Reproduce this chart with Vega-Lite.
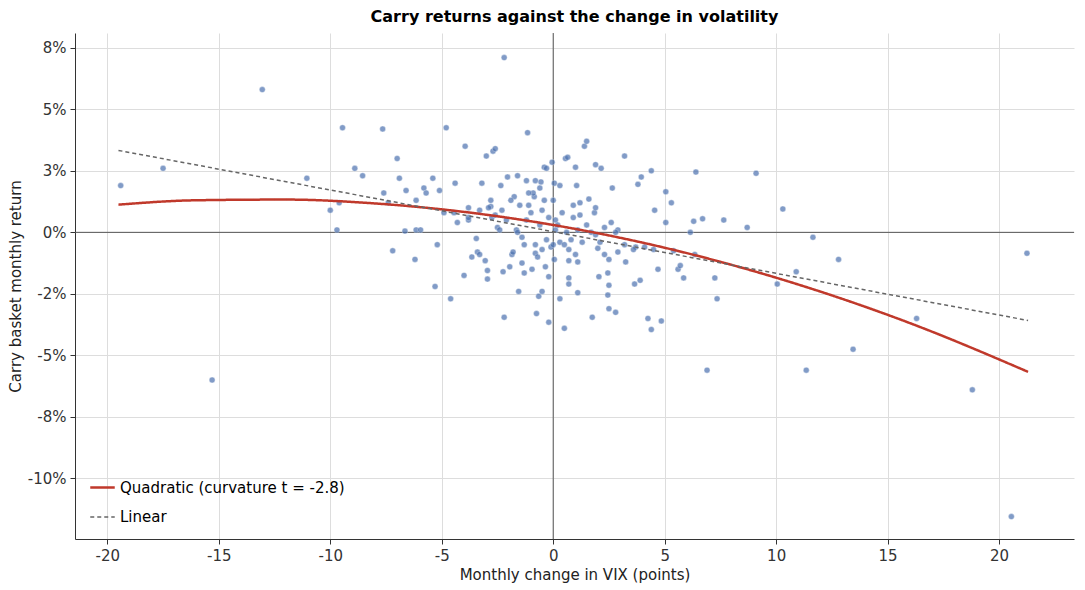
{
  "$schema": "https://vega.github.io/schema/vega-lite/v6.json",
  "autosize": {"type": "fit", "contains": "padding"},
  "width": 1085,
  "height": 590,
  "padding": {"left": 8, "right": 10, "top": 8, "bottom": 8},
  "title": {"text": "Carry returns against the change in volatility", "fontSize": 16, "fontWeight": "bold", "font": "DejaVu Sans", "offset": 8},
  "config": {
    "font": "DejaVu Sans",
    "view": {"stroke": null},
    "axis": {"labelFontSize": 15, "titleFontSize": 15, "titleFontWeight": "normal", "gridColor": "#dddddd", "domainColor": "#333", "tickColor": "#333", "labelColor": "#333", "titleColor": "#222", "labelPadding": 4}
  },
  "datasets": {
    "pts": [
      {"x":-19.4,"y":1.9},{"x":-17.5,"y":2.6},{"x":-13.05,"y":5.8},{"x":-15.3,"y":-6.0},{"x":-9.45,"y":4.25},{"x":-11.05,"y":2.2},{"x":-10.0,"y":0.9},{"x":-9.7,"y":0.1},{"x":-9.6,"y":1.2},{"x":-8.9,"y":2.6},{"x":-8.55,"y":2.3},{"x":-7.65,"y":4.2},{"x":-7.6,"y":1.6},{"x":-7.4,"y":1.2},{"x":-7.0,"y":3.0},{"x":-6.9,"y":2.2},{"x":-7.2,"y":-0.75},{"x":-6.65,"y":0.05},{"x":-6.6,"y":1.7},{"x":-6.2,"y":-1.1},{"x":-6.15,"y":1.3},{"x":-6.15,"y":0.1},{"x":-5.95,"y":0.1},{"x":-5.8,"y":1.8},{"x":-5.7,"y":1.6},{"x":-5.4,"y":2.2},{"x":-5.3,"y":-2.2},{"x":-5.2,"y":-0.5},{"x":-5.1,"y":1.7},{"x":-4.8,"y":4.25},{"x":-4.9,"y":0.8},{"x":-4.6,"y":-2.7},{"x":-4.4,"y":2.0},{"x":-4.45,"y":0.8},{"x":-3.95,"y":3.5},{"x":-4.0,"y":-1.75},{"x":-3.8,"y":1.0},{"x":-3.8,"y":0.5},{"x":-3.65,"y":-1.0},{"x":-3.45,"y":-0.25},{"x":-3.4,"y":-0.8},{"x":-3.3,"y":-0.9},{"x":-3.2,"y":2.0},{"x":-3.05,"y":-1.15},{"x":-2.95,"y":-1.55},{"x":-2.95,"y":-1.9},{"x":-3.0,"y":3.1},{"x":-2.8,"y":1.05},{"x":-2.75,"y":0.6},{"x":-2.7,"y":3.3},{"x":-2.6,"y":3.4},{"x":-2.5,"y":0.2},{"x":-2.35,"y":1.9},{"x":-2.25,"y":-1.6},{"x":-2.2,"y":7.1},{"x":-2.2,"y":-3.45},{"x":-2.05,"y":2.25},{"x":-1.95,"y":-1.4},{"x":-1.85,"y":-0.9},{"x":-1.75,"y":1.45},{"x":-1.65,"y":0.1},{"x":-1.55,"y":-2.4},{"x":-1.4,"y":-1.25},{"x":-1.3,"y":-1.65},{"x":-1.2,"y":2.1},{"x":-1.15,"y":4.05},{"x":-1.1,"y":1.1},{"x":-0.95,"y":-1.5},{"x":-0.85,"y":1.45},{"x":-0.8,"y":-0.85},{"x":-0.75,"y":-3.3},{"x":-0.65,"y":-2.6},{"x":-0.5,"y":-2.4},{"x":-0.55,"y":2.05},{"x":-0.4,"y":2.65},{"x":-0.35,"y":-1.4},{"x":-0.2,"y":-1.8},{"x":-0.2,"y":-3.65},{"x":-0.05,"y":2.85},{"x":0.05,"y":2.0},{"x":0.05,"y":-1.1},{"x":0.1,"y":0.1},{"x":0.3,"y":-2.7},{"x":0.5,"y":-3.9},{"x":0.55,"y":3.0},{"x":0.65,"y":3.05},{"x":0.7,"y":-1.85},{"x":0.7,"y":-2.1},{"x":0.7,"y":-1.15},{"x":1.0,"y":2.65},{"x":1.05,"y":1.9},{"x":1.1,"y":-1.2},{"x":1.1,"y":-2.45},{"x":1.2,"y":1.2},{"x":1.4,"y":3.5},{"x":1.5,"y":3.7},{"x":1.6,"y":1.35},{"x":1.75,"y":-3.45},{"x":1.85,"y":0.8},{"x":1.9,"y":2.75},{"x":2.0,"y":-0.65},{"x":2.05,"y":-1.8},{"x":2.15,"y":2.6},{"x":2.3,"y":-0.9},{"x":2.45,"y":-1.65},{"x":2.45,"y":-2.55},{"x":2.5,"y":-2.15},{"x":2.5,"y":-3.1},{"x":2.65,"y":1.8},{"x":2.8,"y":-3.25},{"x":2.9,"y":-0.8},{"x":3.2,"y":3.1},{"x":3.25,"y":-1.2},{"x":3.65,"y":-2.1},{"x":3.8,"y":1.95},{"x":3.9,"y":-1.95},{"x":3.95,"y":2.25},{"x":4.25,"y":-3.5},{"x":4.4,"y":-3.95},{"x":4.4,"y":2.5},{"x":4.55,"y":0.9},{"x":4.7,"y":-1.5},{"x":4.85,"y":-3.6},{"x":5.05,"y":1.65},{"x":5.05,"y":0.4},{"x":5.3,"y":1.2},{"x":5.4,"y":-0.75},{"x":5.6,"y":-1.5},{"x":5.7,"y":-1.35},{"x":5.85,"y":-1.85},{"x":6.15,"y":0.0},{"x":6.3,"y":0.45},{"x":6.35,"y":-0.9},{"x":6.4,"y":2.45},{"x":6.7,"y":0.55},{"x":6.9,"y":-5.6},{"x":7.25,"y":-1.85},{"x":7.35,"y":-2.7},{"x":7.65,"y":0.5},{"x":8.7,"y":0.2},{"x":9.1,"y":2.4},{"x":10.05,"y":-2.1},{"x":10.3,"y":0.95},{"x":10.9,"y":-1.6},{"x":11.35,"y":-5.6},{"x":11.65,"y":-0.2},{"x":12.8,"y":-1.1},{"x":13.45,"y":-4.75},{"x":16.3,"y":-3.5},{"x":18.8,"y":-6.4},{"x":20.55,"y":-11.55},{"x":21.25,"y":-0.85},
      {"x":-2.9,"y":1.0},{"x":-2.6,"y":0.7},{"x":-2.3,"y":0.9},{"x":-2.1,"y":0.5},{"x":-1.9,"y":1.3},{"x":-1.6,"y":0.0},{"x":-1.4,"y":-0.2},{"x":-1.2,"y":0.5},{"x":-1.0,"y":0.8},{"x":-0.9,"y":1.6},{"x":-0.8,"y":-0.5},{"x":-0.6,"y":0.3},{"x":-0.5,"y":0.9},{"x":-0.4,"y":1.3},{"x":-0.3,"y":-0.3},{"x":-0.2,"y":0.6},{"x":-0.1,"y":-0.6},{"x":0.1,"y":0.5},{"x":0.2,"y":0.3},{"x":0.3,"y":-0.4},{"x":0.4,"y":0.8},{"x":0.6,"y":0.0},{"x":0.8,"y":-0.3},{"x":0.9,"y":0.6},{"x":1.1,"y":0.1},{"x":1.3,"y":-0.4},{"x":1.5,"y":0.3},{"x":1.7,"y":0.0},{"x":1.9,"y":-0.1},{"x":2.1,"y":-0.4},{"x":2.3,"y":0.2},{"x":2.6,"y":0.4},{"x":2.9,"y":0.1},{"x":3.2,"y":-0.5},{"x":3.7,"y":-0.6},{"x":4.1,"y":-0.6},{"x":4.5,"y":-0.7},{"x":-1.3,"y":-0.5},{"x":-0.7,"y":-1.0},{"x":-0.5,"y":-0.7},{"x":0.0,"y":-0.5},{"x":0.5,"y":-0.5},{"x":1.0,"y":-0.9},{"x":-1.8,"y":-0.8},{"x":-2.4,"y":0.1},{"x":-2.8,"y":1.3},{"x":-1.5,"y":1.1},{"x":-1.1,"y":1.6},{"x":-0.6,"y":1.8},{"x":-0.3,"y":2.6},{"x":0.3,"y":1.9},{"x":0.9,"y":1.1},{"x":1.9,"y":1.0},{"x":-3.3,"y":0.9},{"x":-3.8,"y":0.6},{"x":-4.3,"y":0.4},{"x":2.5,"y":-1.1},{"x":3.6,"y":-0.7},{"x":-1.6,"y":2.3},{"x":-0.8,"y":2.1},{"x":0.0,"y":1.3},{"x":0.7,"y":-0.7},{"x":1.2,"y":0.7},{"x":2.8,"y":0.0}
    ],
    "fits": [
      {"series":"Quadratic (curvature t = -2.8)","x":-19.5,"y":1.125},
      {"series":"Quadratic (curvature t = -2.8)","x":-16,"y":1.304},
      {"series":"Quadratic (curvature t = -2.8)","x":-12,"y":1.332},
      {"series":"Quadratic (curvature t = -2.8)","x":-8,"y":1.175},
      {"series":"Quadratic (curvature t = -2.8)","x":-4,"y":0.831},
      {"series":"Quadratic (curvature t = -2.8)","x":0,"y":0.3},
      {"series":"Quadratic (curvature t = -2.8)","x":4,"y":-0.417},
      {"series":"Quadratic (curvature t = -2.8)","x":8,"y":-1.321},
      {"series":"Quadratic (curvature t = -2.8)","x":12,"y":-2.412},
      {"series":"Quadratic (curvature t = -2.8)","x":16,"y":-3.688},
      {"series":"Quadratic (curvature t = -2.8)","x":21.3,"y":-5.668},
      {"series":"Linear","x":-19.5,"y":3.33},
      {"series":"Linear","x":21.3,"y":-3.58}
    ],
    "zero": [{"v":0}]
  },
  "layer": [
    {
      "data": {"name": "zero"},
      "mark": {"type": "rule", "color": "#555", "strokeWidth": 1},
      "encoding": {"x": {"field": "v", "type": "quantitative", "scale": {"domain": [-21.45, 23.36], "nice": false, "zero": false}}}
    },
    {
      "data": {"name": "zero"},
      "mark": {"type": "rule", "color": "#555", "strokeWidth": 1},
      "encoding": {"y": {"field": "v", "type": "quantitative", "scale": {"domain": [-12.46, 8.1], "nice": false}}}
    },
    {
      "data": {"name": "pts"},
      "mark": {"type": "circle", "size": 36, "color": "#4c72b0", "opacity": 0.7, "stroke": "#ffffff", "strokeWidth": 0.4},
      "encoding": {
        "x": {"field": "x", "type": "quantitative", "title": "Monthly change in VIX (points)", "scale": {"domain": [-21.45, 23.36], "nice": false, "zero": false}, "axis": {"values": [-20, -15, -10, -5, 0, 5, 10, 15, 20], "labelExpr": "replace(datum.label, '−', '-')"}},
        "y": {"field": "y", "type": "quantitative", "title": "Carry basket monthly return", "scale": {"domain": [-12.46, 8.1], "nice": false}, "axis": {"values": [-10, -7.5, -5, -2.5, 0, 2.5, 5, 7.5], "labelExpr": "datum.value == 7.5 ? '8%' : datum.value == 5 ? '5%' : datum.value == 2.5 ? '3%' : datum.value == 0 ? '0%' : datum.value == -2.5 ? '-2%' : datum.value == -5 ? '-5%' : datum.value == -7.5 ? '-8%' : '-10%'"}}
      }
    },
    {
      "data": {"name": "fits"},
      "mark": {"type": "line", "interpolate": "monotone"},
      "encoding": {
        "x": {"field": "x", "type": "quantitative"},
        "y": {"field": "y", "type": "quantitative"},
        "detail": {"field": "series"},
        "color": {"field": "series", "type": "nominal", "scale": {"domain": ["Quadratic (curvature t = -2.8)", "Linear"], "range": ["#c0392b", "#666666"]}, "legend": {"title": null, "orient": "bottom-left", "labelFontSize": 15, "labelLimit": 400, "symbolType": "stroke", "symbolSize": 600, "symbolStrokeWidth": 2.5, "padding": 6, "offset": 8, "rowPadding": 8}},
        "strokeDash": {"field": "series", "type": "nominal", "scale": {"domain": ["Quadratic (curvature t = -2.8)", "Linear"], "range": [[1, 0], [4, 3]]}, "legend": null},
        "strokeWidth": {"field": "series", "type": "nominal", "scale": {"domain": ["Quadratic (curvature t = -2.8)", "Linear"], "range": [2.5, 1.5]}, "legend": null}
      }
    }
  ]
}
